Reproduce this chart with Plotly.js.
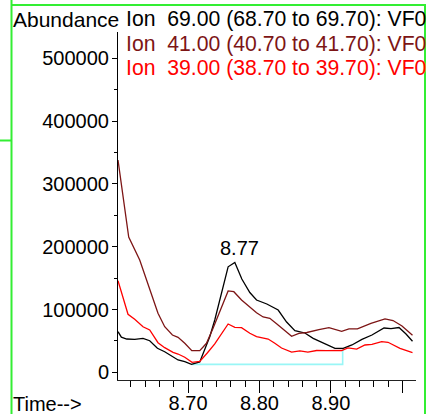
<!DOCTYPE html>
<html>
<head>
<meta charset="utf-8">
<script src="https://cdn.plot.ly/plotly-3.0.1.min.js"></script>
<style>
  html, body { margin: 0; padding: 0; background: #ffffff; }
  #chart { width: 427px; height: 414px; }
</style>
</head>
<body>
<div id="chart"></div>
<script>
// ---- Data ----
const ionLabels = [
  "Ion\u00a0\u00a069.00 (68.70 to 69.70): VF0",
  "Ion\u00a0\u00a041.00 (40.70 to 41.70): VF0",
  "Ion\u00a0\u00a039.00 (38.70 to 39.70): VF0"
];
const ionColors = ["#000000", "#7d1515", "#ff0000"];

const time69 = [8.6019, 8.6066, 8.6141, 8.6253, 8.6369, 8.6463, 8.6571, 8.6673, 8.6860, 8.6954,
  8.7048, 8.7164, 8.7304, 8.7374, 8.7561, 8.7655, 8.7753, 8.7865, 8.7959, 8.8103,
  8.8262, 8.8380, 8.8496, 8.8636, 8.8752, 8.8893, 8.9057, 8.9173, 8.9295, 8.9435,
  8.9575, 8.9744, 8.9842, 8.9954, 9.0052, 9.0143];
const abund69 = [64700, 56000, 53000, 52500, 54100, 50300, 38200, 32800, 19600, 16900,
  12700, 16400, 56700, 83300, 168000, 174800, 148600, 127100, 115100, 108800,
  99200, 80100, 66200, 62600, 54100, 46200, 38200, 38200, 43500, 52500,
  59400, 70500, 69400, 71300, 61000, 49400];

const time41 = [8.6019, 8.6169, 8.6323, 8.6449, 8.6579, 8.6673, 8.6781, 8.6860, 8.6954, 8.7052,
  8.7164, 8.7258, 8.7350, 8.7561, 8.7641, 8.7749, 8.7865, 8.7959, 8.8051, 8.8145,
  8.8244, 8.8332, 8.8450, 8.8552, 8.8664, 8.8832, 8.8973, 8.9151, 8.9253, 8.9372,
  8.9561, 8.9758, 8.9870, 8.9996, 9.0143];
const abund41 = [338100, 215400, 178800, 136300, 94000, 72600, 59400, 55700, 46200, 34400,
  34400, 46200, 70100, 129500, 128300, 115100, 103500, 94900, 88100, 86000,
  76900, 68500, 57300, 62100, 63400, 67800, 71000, 65300, 69000, 69300,
  78000, 85200, 82500, 73700, 58900];

const time39 = [8.6019, 8.6159, 8.6253, 8.6369, 8.6463, 8.6579, 8.6673, 8.6790, 8.6860, 8.6954,
  8.7056, 8.7164, 8.7272, 8.7374, 8.7561, 8.7655, 8.7749, 8.7865, 8.7959, 8.8122,
  8.8215, 8.8309, 8.8450, 8.8566, 8.8678, 8.8800, 8.8940, 8.9151, 8.9239, 8.9361,
  8.9477, 8.9575, 8.9711, 8.9800, 8.9968, 9.0143];
const abund39 = [145900, 92400, 84400, 72600, 67400, 47100, 39200, 31800, 29100, 23900,
  15900, 17200, 31200, 45100, 76900, 71700, 71000, 62100, 56700, 53000,
  46200, 38700, 32300, 34200, 32300, 34700, 34400, 34700, 39000, 36800,
  43500, 44300, 48700, 47800, 38200, 31200];

// integration baseline of the 8.77 peak
const baseTime = [8.7048, 8.9165, 8.9165];
const baseAbund = [12700, 12700, 37000];

const peakLabel = "8.77";
const peakTime = 8.7725;
const peakLabelAbund = 198000;

const xTickVals = [8.7, 8.8, 8.9, 9.0];
const xTickText = ["8.70", "8.80", "8.90", ""];
const yTickVals = [0, 100000, 200000, 300000, 400000, 500000];
const yTickText = ["0", "100000", "200000", "300000", "400000", "500000"];

// ---- Layout geometry ----
const FW = 427, FH = 414;
const M = { l: 118, r: 11, t: 32, b: 34 };
const PW = FW - M.l - M.r, PH = FH - M.t - M.b;
const px = x => (x - M.l) / PW;
const py = y => (M.t + PH - y) / PH;

const FONT = "Liberation Sans, Arial, Helvetica, sans-serif";
const green = "#33ee33";

const traces = [
  { x: baseTime, y: baseAbund, mode: "lines", line: { color: "#99f6f6", width: 1.6 }, hoverinfo: "skip" },
  { x: time69, y: abund69, mode: "lines", line: { color: ionColors[0], width: 1.3 } },
  { x: time41, y: abund41, mode: "lines", line: { color: ionColors[1], width: 1.3 } },
  { x: time39, y: abund39, mode: "lines", line: { color: ionColors[2], width: 1.3 } }
];

const annotations = [
  { xref: "paper", yref: "paper", x: px(11), y: py(19.5), xanchor: "left", yanchor: "middle",
    text: "Abundance", showarrow: false, font: { family: FONT, size: 21, color: "#000" } },
  { xref: "paper", yref: "paper", x: px(11), y: py(404), xanchor: "left", yanchor: "middle",
    text: "Time-->", showarrow: false, font: { family: FONT, size: 20, color: "#000" } },
  { xref: "x", yref: "y", x: peakTime, y: peakLabelAbund, xanchor: "center", yanchor: "middle",
    text: peakLabel, showarrow: false, font: { family: FONT, size: 20, color: "#000" } }
];
const legendY = [19.5, 44, 67.5];
ionLabels.forEach((t, i) => {
  annotations.push({ xref: "paper", yref: "paper", x: px(124), y: py(legendY[i]),
    xanchor: "left", yanchor: "middle", text: t, showarrow: false,
    font: { family: FONT, size: 21.2, color: ionColors[i] } });
});

const gl = { color: green, width: 2 };
const shapes = [
  { type: "line", xref: "paper", yref: "paper", x0: px(11.5), x1: px(11.5), y0: py(0), y1: py(414), line: gl },
  { type: "line", xref: "paper", yref: "paper", x0: px(11.5), x1: px(426), y0: py(5), y1: py(5), line: gl },
  { type: "line", xref: "paper", yref: "paper", x0: px(425), x1: px(425), y0: py(5), y1: py(414), line: gl },
  { type: "line", xref: "paper", yref: "paper", x0: px(0), x1: px(11.5), y0: py(140.5), y1: py(140.5), line: gl }
];

const layout = {
  width: FW, height: FH,
  margin: { l: M.l, r: M.r, t: M.t, b: M.b, pad: 0 },
  paper_bgcolor: "#ffffff", plot_bgcolor: "#ffffff",
  showlegend: false,
  font: { family: FONT, size: 20, color: "#000" },
  xaxis: {
    range: [8.6019, 9.0192], tickmode: "array", tickvals: xTickVals, ticktext: xTickText,
    ticks: "outside", ticklen: 12, tickwidth: 1, tickcolor: "#000", ticklabelstandoff: -7,
    showline: true, linecolor: "#222", linewidth: 1, showgrid: false, zeroline: false,
    tickfont: { family: FONT, size: 20, color: "#000" },
    minor: { tickmode: "linear", tick0: 8.6, dtick: 0.02, ticks: "outside", ticklen: 6, tickwidth: 1, tickcolor: "#000", showgrid: false }
  },
  yaxis: {
    range: [-12260, 541900], tickmode: "array", tickvals: yTickVals, ticktext: yTickText,
    ticks: "outside", ticklen: 5, tickwidth: 1, tickcolor: "#000", ticklabelstandoff: -1,
    showline: true, linecolor: "#000", linewidth: 1, showgrid: false, zeroline: false,
    tickfont: { family: FONT, size: 20, color: "#000" },
    minor: { tickmode: "linear", tick0: 0, dtick: 50000, ticks: "outside", ticklen: 3, tickwidth: 1, tickcolor: "#000", showgrid: false }
  },
  annotations: annotations,
  shapes: shapes
};

Plotly.newPlot("chart", traces, layout, { staticPlot: true, displayModeBar: false });
</script>
</body>
</html>
